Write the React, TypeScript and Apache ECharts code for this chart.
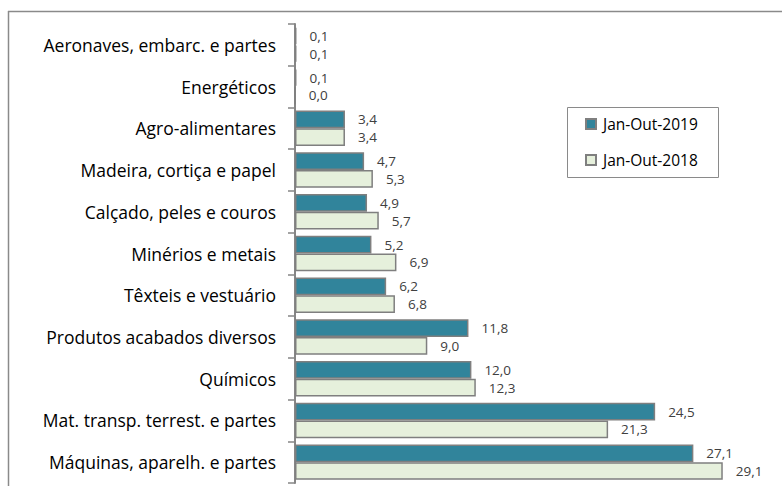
import React, { useEffect, useRef } from "react";
import * as echarts from "echarts";

const categories = [
  "Aeronaves, embarc. e partes",
  "Energéticos",
  "Agro-alimentares",
  "Madeira, cortiça e papel",
  "Calçado, peles e couros",
  "Minérios e metais",
  "Têxteis e vestuário",
  "Produtos acabados diversos",
  "Químicos",
  "Mat. transp. terrest. e partes",
  "Máquinas, aparelh. e partes",
];
const series2019 = [0.1, 0.1, 3.4, 4.7, 4.9, 5.2, 6.2, 11.8, 12.0, 24.5, 27.1];
const series2018 = [0.1, 0.0, 3.4, 5.3, 5.7, 6.9, 6.8, 9.0, 12.3, 21.3, 29.1];
const seriesNames = ["Jan-Out-2019", "Jan-Out-2018"];

const fmt = (v: number) => v.toFixed(1).replace(".", ",");

export default function App() {
  const ref = useRef<HTMLDivElement>(null);
  useEffect(() => {
    if (!ref.current) return;
    const chart = echarts.init(ref.current, null, { renderer: "svg" });
    const font = "'Open Sans', sans-serif";
    const label = {
      show: true,
      position: "right" as const,
      distance: 13,
      color: "#404040",
      fontSize: 13.5,
      fontFamily: font,
      formatter: (p: any) => fmt(p.value),
    };
    chart.setOption({
      animation: false,
      grid: { left: 295, top: 24, width: 441, height: 459, containLabel: false },
      xAxis: {
        type: "value",
        min: 0,
        max: 30,
        show: false,
      },
      yAxis: {
        type: "category",
        data: categories,
        inverse: true,
        axisLine: { show: true, lineStyle: { color: "#868686", width: 2 } },
        axisTick: { show: true, inside: false, length: 7, lineStyle: { color: "#868686", width: 1.5 } },
        axisLabel: { color: "#000", fontSize: 17.5, fontFamily: font, margin: 19 },
      },
      legend: {
        orient: "vertical",
        left: 585,
        top: 116,
        padding: 0,
        itemWidth: 10,
        itemHeight: 10,
        itemGap: 20,
        icon: "rect",
        textStyle: { color: "#000", fontSize: 15.5, fontFamily: font, padding: [0, 0, 0, 2] },
        data: seriesNames,
      },
      series: [
        {
          name: seriesNames[0],
          type: "bar",
          data: series2019,
          barGap: "0%",
          barCategoryGap: "15%",
          itemStyle: { color: "#31849B", borderColor: "#7F7F7F", borderWidth: 1.5 },
          label,
        },
        {
          name: seriesNames[1],
          type: "bar",
          data: series2018,
          barGap: "0%",
          barCategoryGap: "15%",
          itemStyle: { color: "#E6F0DC", borderColor: "#7F7F7F", borderWidth: 1.5 },
          label,
        },
      ],
      graphic: [
        { type: "line", shape: { x1: 8, y1: 11.5, x2: 782, y2: 11.5 }, style: { stroke: "#8a8a8a", lineWidth: 1.5 } },
        { type: "line", shape: { x1: 8.5, y1: 11, x2: 8.5, y2: 486 }, style: { stroke: "#8a8a8a", lineWidth: 1.5 } },
        { type: "rect", shape: { x: 567.5, y: 107.5, width: 151, height: 70 }, style: { fill: "none", stroke: "#8a8a8a", lineWidth: 1 } },
      ],
    });
    return () => chart.dispose();
  }, []);
  return <div ref={ref} style={{ position: "absolute", left: 0, top: 0, width: 782, height: 486 }} />;
}
